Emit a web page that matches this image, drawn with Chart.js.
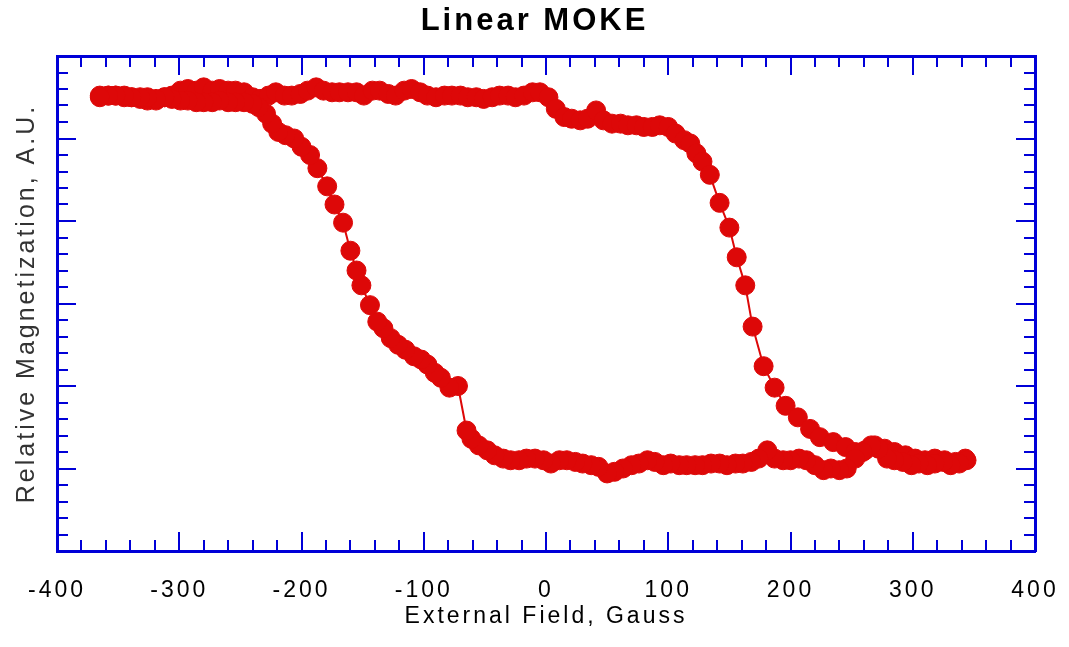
<!DOCTYPE html>
<html>
<head>
<meta charset="utf-8">
<script src="https://cdn.jsdelivr.net/npm/chart.js@4.4.1/dist/chart.umd.min.js"></script>
<style>
  html, body { margin: 0; padding: 0; background: #fff; }
  #moke { display: block; }
</style>
</head>
<body>
<canvas id="moke" width="1069" height="647"></canvas>
<script>
// field sweep from +350 G down to -365 G (lower branch, switches near -70 G)
const fieldDown = [344, 338, 331, 325, 318, 312, 305, 299, 292, 285, 279, 272, 266, 259, 253, 246, 240, 233, 227, 220,
  213, 207, 200, 194, 187, 181, 174, 168, 161, 155, 148, 142, 135, 128, 122, 115, 109, 102, 96, 89,
  83, 76, 70, 63, 56, 50, 43, 37, 30, 24, 17, 11, 4, -2, -9, -16, -22, -29, -35, -42,
  -48, -55, -61, -65, -72, -79, -86, -91, -97, -102, -108, -115, -121, -127, -133, -138, -144, -151, -155, -160,
  -166, -173, -179, -187, -193, -200, -206, -213, -219, -224, -229, -235, -240, -247, -254, -260, -267, -273, -280, -286,
  -293, -299, -306, -312, -319, -326, -332, -339, -345, -352, -358, -365];
const magDown = [-0.95, -0.97, -0.98, -0.96, -0.97, -0.98, -0.97, -0.98, -0.96, -0.95, -0.94, -0.88, -0.86, -0.90, -0.94, -1.00, -1.01, -1.00, -1.01, -0.98,
  -0.95, -0.94, -0.95, -0.95, -0.94, -0.89, -0.94, -0.96, -0.97, -0.97, -0.98, -0.97, -0.97, -0.98, -0.98, -0.98, -0.98, -0.97, -0.98, -0.96,
  -0.95, -0.97, -0.98, -1.00, -1.02, -1.03, -0.99, -0.98, -0.97, -0.96, -0.95, -0.95, -0.97, -0.95, -0.94, -0.94, -0.95, -0.95, -0.94, -0.92,
  -0.89, -0.86, -0.82, -0.77, -0.50, -0.51, -0.45, -0.42, -0.37, -0.34, -0.32, -0.28, -0.25, -0.21, -0.15, -0.11, -0.01, 0.11, 0.20, 0.32,
  0.49, 0.60, 0.71, 0.82, 0.90, 0.95, 1.00, 1.02, 1.04, 1.09, 1.15, 1.19, 1.21, 1.22, 1.22, 1.22, 1.23, 1.22, 1.22, 1.22,
  1.23, 1.23, 1.24, 1.25, 1.24, 1.25, 1.25, 1.25, 1.26, 1.26, 1.26, 1.25];

// field sweep from -365 G up to +343 G (upper branch, switches near +160 G)
const fieldUp = [-365, -358, -352, -345, -339, -332, -326, -319, -312, -306, -299, -293, -286, -280, -273, -267, -260, -254, -247, -240,
  -234, -227, -221, -214, -208, -201, -195, -188, -182, -175, -169, -162, -155, -149, -142, -136, -129, -123, -116, -110,
  -103, -97, -90, -83, -77, -70, -64, -57, -51, -44, -38, -31, -25, -18, -11, -5, 2, 8, 15, 21,
  28, 34, 41, 47, 54, 61, 67, 74, 80, 87, 93, 100, 106, 113, 118, 123, 128, 134, 142, 150,
  156, 163, 169, 178, 187, 196, 206, 216, 224, 235, 245, 253, 261, 269, 277, 285, 294, 302, 310, 318,
  326, 335, 343];
const magUp = [1.26, 1.26, 1.26, 1.25, 1.25, 1.24, 1.23, 1.23, 1.25, 1.26, 1.29, 1.30, 1.29, 1.31, 1.29, 1.30, 1.29, 1.29, 1.28, 1.25,
  1.24, 1.26, 1.28, 1.26, 1.26, 1.27, 1.29, 1.31, 1.29, 1.28, 1.28, 1.28, 1.28, 1.26, 1.29, 1.29, 1.27, 1.26, 1.29, 1.30,
  1.28, 1.26, 1.25, 1.26, 1.26, 1.26, 1.25, 1.25, 1.24, 1.25, 1.26, 1.26, 1.25, 1.26, 1.28, 1.28, 1.25, 1.18, 1.13, 1.12,
  1.11, 1.12, 1.17, 1.11, 1.09, 1.09, 1.08, 1.08, 1.07, 1.07, 1.08, 1.07, 1.03, 0.99, 0.97, 0.91, 0.86, 0.78, 0.61, 0.46,
  0.28, 0.11, -0.14, -0.38, -0.51, -0.62, -0.69, -0.76, -0.81, -0.84, -0.87, -0.90, -0.89, -0.86, -0.88, -0.90, -0.92, -0.94, -0.95, -0.94,
  -0.95, -0.96, -0.94];

const xTickLabels = [-400, -300, -200, -100, 0, 100, 200, 300, 400];

const RED = '#dd0808';
const BLUE = '#0000d8';
const FONT = "'Liberation Sans', Arial, sans-serif";

function toPoints(xs, ys) {
  return xs.map((x, i) => ({ x: x, y: ys[i] }));
}

// inward tick marks on all four sides, like the original plot frame
const frameTicks = {
  id: 'frameTicks',
  beforeUpdate(chart) { chart.ctx.letterSpacing = '3px'; },
  beforeDraw(chart) { chart.ctx.letterSpacing = '3px'; },
  beforeDatasetsDraw(chart) {
    const ctx = chart.ctx;
    const area = chart.chartArea;
    const xs = chart.scales.x;
    const ys = chart.scales.y;
    ctx.save();
    ctx.strokeStyle = BLUE;
    ctx.lineWidth = 2;
    ctx.beginPath();
    for (let v = -400; v <= 400; v += 20) {
      const px = Math.round(xs.getPixelForValue(v));
      const len = v % 100 === 0 ? 19 : 11;
      ctx.moveTo(px, area.bottom); ctx.lineTo(px, area.bottom - len);
      ctx.moveTo(px, area.top); ctx.lineTo(px, area.top + len);
    }
    for (let i = -15; i <= 15; i++) {
      const py = Math.round(ys.getPixelForValue(i / 10));
      const len = i % 5 === 0 ? 19 : 11;
      ctx.moveTo(area.left, py); ctx.lineTo(area.left + len, py);
      ctx.moveTo(area.right, py); ctx.lineTo(area.right - len, py);
    }
    ctx.stroke();
    ctx.restore();
  }
};

const lineStyle = {
  showLine: true,
  borderColor: RED,
  borderWidth: 2,
  backgroundColor: RED,
  pointRadius: 9.5,
  pointBorderWidth: 1,
  pointBorderColor: RED,
  pointBackgroundColor: RED,
  pointHoverRadius: 9.5,
  tension: 0
};

const frameBorder = { display: true, color: BLUE, width: 3 };
const noGrid = { display: true, drawOnChartArea: false, drawTicks: false };

new Chart(document.getElementById('moke'), {
  type: 'scatter',
  data: {
    datasets: [
      Object.assign({ label: 'Decreasing field', data: toPoints(fieldDown, magDown) }, lineStyle),
      Object.assign({ label: 'Increasing field', data: toPoints(fieldUp, magUp) }, lineStyle)
    ]
  },
  options: {
    responsive: false,
    animation: false,
    devicePixelRatio: 1,
    layout: { padding: 0 },
    plugins: {
      legend: { display: false },
      tooltip: { enabled: false },
      title: {
        display: true,
        text: 'Linear MOKE',
        color: '#000',
        font: { family: FONT, size: 31, weight: 'bold' },
        padding: { top: 3, bottom: 0 }
      }
    },
    scales: {
      x: {
        type: 'linear',
        position: 'bottom',
        min: -400,
        max: 400,
        afterBuildTicks(scale) { scale.ticks = xTickLabels.map(v => ({ value: v })); },
        afterFit(scale) {
          scale.height = 96;
          scale.paddingLeft = 0;
          scale.paddingRight = 0;
        },
        grid: noGrid,
        border: frameBorder,
        ticks: {
          color: '#000',
          padding: 26,
          autoSkip: false,
          maxRotation: 0,
          font: { family: FONT, size: 23 }
        },
        title: {
          display: true,
          text: 'External Field, Gauss',
          color: '#000',
          font: { family: FONT, size: 23 },
          padding: { top: 0, bottom: 17 }
        }
      },
      x2: {
        type: 'linear',
        position: 'top',
        min: -400,
        max: 400,
        afterFit(scale) { scale.height = 15.8; },
        grid: noGrid,
        border: frameBorder,
        ticks: { display: false }
      },
      y: {
        type: 'linear',
        position: 'left',
        min: -1.5,
        max: 1.5,
        afterFit(scale) { scale.width = 57; },
        grid: noGrid,
        border: frameBorder,
        ticks: { display: false },
        title: {
          display: true,
          text: 'Relative Magnetization, A.U.',
          color: '#333',
          font: { family: FONT, size: 25 },
          padding: { top: 12, bottom: 0 }
        }
      },
      y2: {
        type: 'linear',
        position: 'right',
        min: -1.5,
        max: 1.5,
        afterFit(scale) { scale.width = 34; },
        grid: noGrid,
        border: frameBorder,
        ticks: { display: false }
      }
    }
  },
  plugins: [frameTicks]
});
</script>
</body>
</html>
